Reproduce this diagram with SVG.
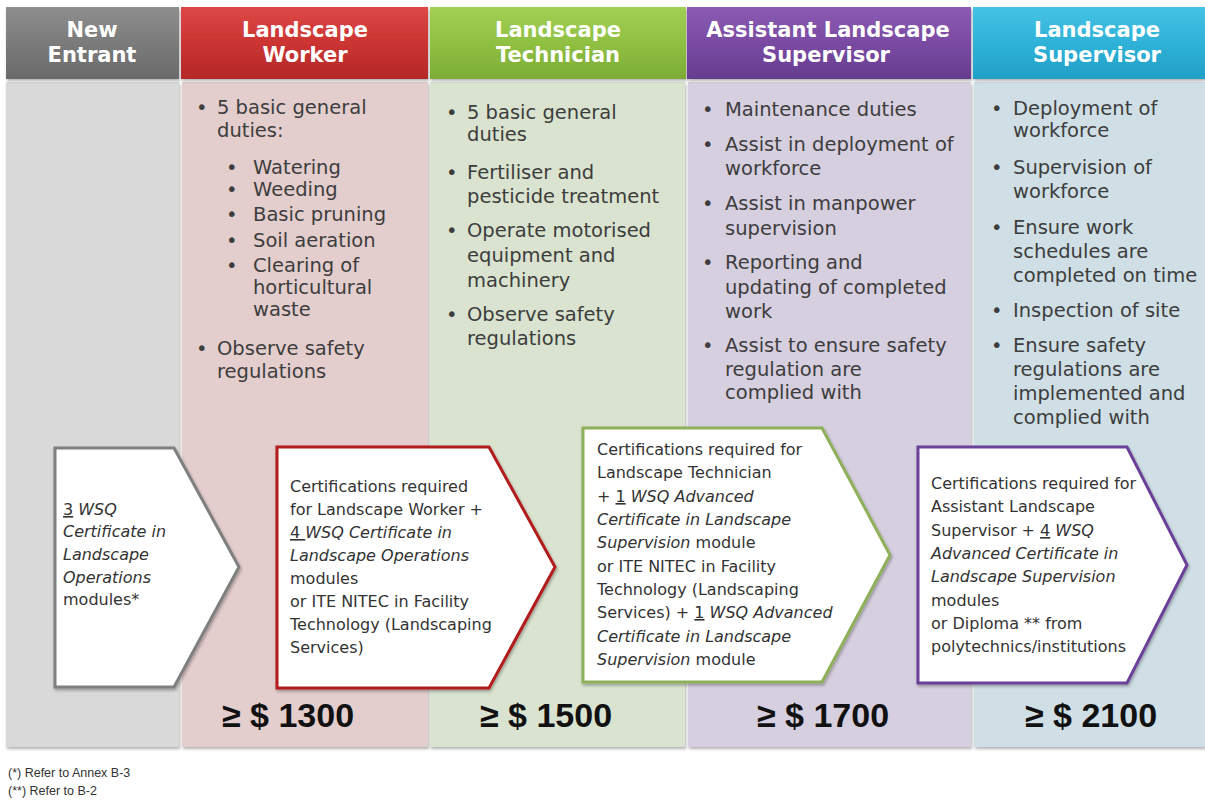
<svg xmlns="http://www.w3.org/2000/svg" width="1205" height="803" viewBox="0 0 1205 803">
<defs>
<linearGradient id="gGray" x1="0" y1="0" x2="0" y2="1"><stop offset="0" stop-color="#8e8e8e"/><stop offset="0.5" stop-color="#7b7b7b"/><stop offset="1" stop-color="#6a6a6a"/></linearGradient>
<linearGradient id="gRed" x1="0" y1="0" x2="0" y2="1"><stop offset="0" stop-color="#dc4846"/><stop offset="0.5" stop-color="#cc3433"/><stop offset="1" stop-color="#b42828"/></linearGradient>
<linearGradient id="gGreen" x1="0" y1="0" x2="0" y2="1"><stop offset="0" stop-color="#a2cf55"/><stop offset="0.5" stop-color="#8fc042"/><stop offset="1" stop-color="#7cac35"/></linearGradient>
<linearGradient id="gPurple" x1="0" y1="0" x2="0" y2="1"><stop offset="0" stop-color="#8a5bb2"/><stop offset="0.5" stop-color="#7a4ba3"/><stop offset="1" stop-color="#653c8f"/></linearGradient>
<linearGradient id="gBlue" x1="0" y1="0" x2="0" y2="1"><stop offset="0" stop-color="#45c2e4"/><stop offset="0.5" stop-color="#2fb2d8"/><stop offset="1" stop-color="#229fc6"/></linearGradient>
<filter id="sh" x="-10%" y="-10%" width="130%" height="130%"><feDropShadow dx="1" dy="2" stdDeviation="1.5" flood-color="#000" flood-opacity="0.3"/></filter>
</defs>
<style>
.hd{font-family:"DejaVu Sans",sans-serif;font-weight:bold;font-size:21px;fill:#fff;text-anchor:middle}
.dt{font-family:"DejaVu Sans",sans-serif;font-size:19.5px;fill:#3d3d3d}
.ct{font-family:"DejaVu Sans",sans-serif;font-size:16px;fill:#333}
.it{font-style:italic}
.ul{text-decoration:underline}
.pr{font-family:"Liberation Sans",sans-serif;font-weight:bold;font-size:34px;fill:#111;text-anchor:middle}
.fn{font-family:"Liberation Sans",sans-serif;font-size:12.5px;fill:#333}
.arrow{fill:#fff;stroke-width:3;stroke-linejoin:miter;filter:url(#sh)}
</style>
<rect width="1205" height="803" fill="#fff"/>

<g id="col-new-entrant">
<rect x="6" y="82" width="173" height="665" fill="#d9d9d9" filter="url(#sh)"/>
<rect x="6" y="7" width="173" height="72" fill="url(#gGray)" filter="url(#sh)"/>
<text class="hd" x="92" y="37">New</text>
<text class="hd" x="92" y="62">Entrant</text>
</g>

<g id="col-landscape-worker">
<rect x="182" y="82" width="246" height="665" fill="#e3cdcd" filter="url(#sh)"/>
<rect x="181" y="7" width="247" height="72" fill="url(#gRed)" filter="url(#sh)"/>
<text class="hd" x="305" y="37">Landscape</text>
<text class="hd" x="305" y="62">Worker</text>
<g class="dt">
<text x="196" y="114">•</text><text x="217" y="114">5 basic general</text>
<text x="217" y="137">duties:</text>
<text x="226" y="174">•</text><text x="253" y="174">Watering</text>
<text x="226" y="196">•</text><text x="253" y="196">Weeding</text>
<text x="226" y="221">•</text><text x="253" y="221">Basic pruning</text>
<text x="226" y="247">•</text><text x="253" y="247">Soil aeration</text>
<text x="226" y="272">•</text><text x="253" y="272">Clearing of</text>
<text x="253" y="294">horticultural</text>
<text x="253" y="316">waste</text>
<text x="196" y="355">•</text><text x="217" y="355">Observe safety</text>
<text x="217" y="378">regulations</text>
</g>
<text class="pr" x="288" y="727">≥ $ 1300</text>
</g>

<g id="col-landscape-technician">
<rect x="430" y="82" width="255" height="665" fill="#d9e3cf" filter="url(#sh)"/>
<rect x="430" y="7" width="256" height="72" fill="url(#gGreen)" filter="url(#sh)"/>
<text class="hd" x="558" y="37">Landscape</text>
<text class="hd" x="558" y="62">Technician</text>
<g class="dt">
<text x="446" y="119">•</text><text x="467" y="119">5 basic general</text>
<text x="467" y="141">duties</text>
<text x="446" y="179">•</text><text x="467" y="179">Fertiliser and</text>
<text x="467" y="203">pesticide treatment</text>
<text x="446" y="237">•</text><text x="467" y="237">Operate motorised</text>
<text x="467" y="262">equipment and</text>
<text x="467" y="287">machinery</text>
<text x="446" y="321">•</text><text x="467" y="321">Observe safety</text>
<text x="467" y="345">regulations</text>
</g>
<text class="pr" x="546" y="727">≥ $ 1500</text>
</g>

<g id="col-assistant-landscape-supervisor">
<rect x="688" y="82" width="283" height="665" fill="#d6cfdf" filter="url(#sh)"/>
<rect x="687" y="7" width="284" height="72" fill="url(#gPurple)" filter="url(#sh)"/>
<text class="hd" x="828" y="37">Assistant Landscape</text>
<text class="hd" x="826" y="62">Supervisor</text>
<g class="dt">
<text x="702" y="116">•</text><text x="725" y="116">Maintenance duties</text>
<text x="702" y="151">•</text><text x="725" y="151">Assist in deployment of</text>
<text x="725" y="175">workforce</text>
<text x="702" y="210">•</text><text x="725" y="210">Assist in manpower</text>
<text x="725" y="235">supervision</text>
<text x="702" y="269">•</text><text x="725" y="269">Reporting and</text>
<text x="725" y="294">updating of completed</text>
<text x="725" y="318">work</text>
<text x="702" y="352">•</text><text x="725" y="352">Assist to ensure safety</text>
<text x="725" y="376">regulation are</text>
<text x="725" y="399">complied with</text>
</g>
<text class="pr" x="823" y="727">≥ $ 1700</text>
</g>

<g id="col-landscape-supervisor">
<rect x="974" y="82" width="231" height="665" fill="#cfdfe5" filter="url(#sh)"/>
<rect x="973" y="7" width="232" height="72" fill="url(#gBlue)" filter="url(#sh)"/>
<text class="hd" x="1097" y="37">Landscape</text>
<text class="hd" x="1097" y="62">Supervisor</text>
<g class="dt">
<text x="991" y="115">•</text><text x="1013" y="115">Deployment of</text>
<text x="1013" y="137">workforce</text>
<text x="991" y="174">•</text><text x="1013" y="174">Supervision of</text>
<text x="1013" y="198">workforce</text>
<text x="991" y="234">•</text><text x="1013" y="234">Ensure work</text>
<text x="1013" y="258">schedules are</text>
<text x="1013" y="282">completed on time</text>
<text x="991" y="317">•</text><text x="1013" y="317">Inspection of site</text>
<text x="991" y="352">•</text><text x="1013" y="352">Ensure safety</text>
<text x="1013" y="376">regulations are</text>
<text x="1013" y="400">implemented and</text>
<text x="1013" y="424">complied with</text>
</g>
<text class="pr" x="1091" y="727">≥ $ 2100</text>
</g>

<g id="cert-new-entrant">
<path class="arrow" stroke="#7f7f7f" d="M55,448 L174,448 L239,567 L174,687 L55,687 Z"/>
<g class="ct">
<text x="63" y="515"><tspan class="ul">3</tspan><tspan class="it"> WSQ</tspan></text>
<text x="63" y="537" class="it">Certificate in</text>
<text x="63" y="560" class="it">Landscape</text>
<text x="63" y="583" class="it">Operations</text>
<text x="63" y="605">modules*</text>
</g>
</g>

<g id="cert-landscape-worker">
<path class="arrow" stroke="#b31b1b" d="M277,447 L489,447 L555,567 L489,688 L277,688 Z"/>
<g class="ct">
<text x="290" y="492">Certifications required</text>
<text x="290" y="515">for Landscape Worker +</text>
<text x="290" y="538"><tspan class="ul">4 </tspan><tspan class="it">WSQ Certificate in</tspan></text>
<text x="290" y="561" class="it">Landscape Operations</text>
<text x="290" y="584">modules</text>
<text x="290" y="607">or ITE NITEC in Facility</text>
<text x="290" y="630">Technology (Landscaping</text>
<text x="290" y="653">Services)</text>
</g>
</g>

<g id="cert-landscape-technician">
<path class="arrow" stroke="#8fb05a" d="M583,428 L822,428 L890,555 L822,682 L583,682 Z"/>
<g class="ct">
<text x="597" y="455">Certifications required for</text>
<text x="597" y="478">Landscape Technician</text>
<text x="597" y="502">+ <tspan class="ul">1</tspan><tspan class="it"> WSQ Advanced</tspan></text>
<text x="597" y="525" class="it">Certificate in Landscape</text>
<text x="597" y="548"><tspan class="it">Supervision</tspan> module</text>
<text x="597" y="572">or ITE NITEC in Facility</text>
<text x="597" y="595">Technology (Landscaping</text>
<text x="597" y="618">Services) + <tspan class="ul">1</tspan><tspan class="it"> WSQ Advanced</tspan></text>
<text x="597" y="642" class="it">Certificate in Landscape</text>
<text x="597" y="665"><tspan class="it">Supervision</tspan> module</text>
</g>
</g>

<g id="cert-assistant-landscape-supervisor">
<path class="arrow" stroke="#6b3f98" d="M918,447 L1127,447 L1187,565 L1127,683 L918,683 Z"/>
<g class="ct">
<text x="931" y="489">Certifications required for</text>
<text x="931" y="512">Assistant Landscape</text>
<text x="931" y="536">Supervisor + <tspan class="ul">4</tspan><tspan class="it"> WSQ</tspan></text>
<text x="931" y="559" class="it">Advanced Certificate in</text>
<text x="931" y="582"><tspan class="it">Landscape Supervision</tspan></text>
<text x="931" y="606">modules</text>
<text x="931" y="629">or Diploma ** from</text>
<text x="931" y="652">polytechnics/institutions</text>
</g>
</g>

<g id="connectors"/>

<g id="footnotes" class="fn">
<text x="8" y="777">(*) Refer to Annex B-3</text>
<text x="8" y="795">(**) Refer to B-2</text>
</g>
</svg>
